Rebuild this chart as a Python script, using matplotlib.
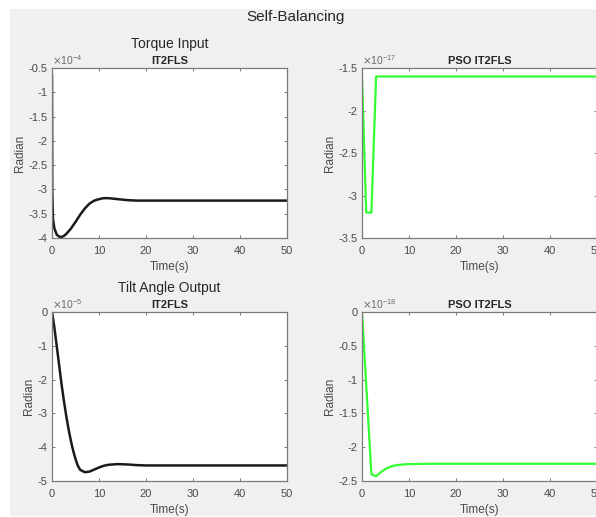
import matplotlib
matplotlib.use("Agg")
import matplotlib.pyplot as plt
from matplotlib.patches import Rectangle

plt.rcParams['font.family'] = ['Liberation Sans', 'DejaVu Sans']

# ---------------- data ----------------
# Torque Input, IT2FLS (values in units of 1e-4)
torque_t = [0, 0.05, 0.2, 0.5, 1, 1.5, 2, 2.5, 3, 4, 5, 6, 7, 8, 9, 10, 11, 12, 14, 16, 18, 20, 30, 40, 50]
torque_y = [-0.66, -3.0, -3.6, -3.8, -3.93, -3.97, -3.98, -3.96, -3.92, -3.81, -3.67, -3.52, -3.39, -3.29, -3.23, -3.2, -3.18, -3.18, -3.2, -3.22, -3.23, -3.23, -3.23, -3.23, -3.23]
torque_exp = -4

# Torque Input, PSO IT2FLS (units of 1e-17)
pso_torque_t = [0, 0.9, 2, 3, 50]
pso_torque_y = [-1.6, -3.2, -3.2, -1.6, -1.6]
pso_torque_exp = -17

# Tilt Angle Output, IT2FLS (units of 1e-5)
tilt_t = [0, 0.5, 1, 1.5, 2, 2.5, 3, 3.5, 4, 4.5, 5, 5.5, 6, 7, 8, 9, 10, 11, 12, 14, 16, 18, 20, 30, 50]
tilt_y = [0, -0.45, -1.0, -1.55, -2.1, -2.6, -3.05, -3.45, -3.8, -4.1, -4.35, -4.55, -4.67, -4.74, -4.72, -4.66, -4.6, -4.55, -4.52, -4.5, -4.51, -4.53, -4.54, -4.54, -4.54]
tilt_exp = -5

# Tilt Angle Output, PSO IT2FLS (units of 1e-18)
pso_tilt_t = [0, 2, 3, 4, 5, 6, 7, 8, 10, 15, 50]
pso_tilt_y = [0, -2.4, -2.43, -2.37, -2.32, -2.29, -2.27, -2.26, -2.25, -2.245, -2.245]
pso_tilt_exp = -18

x_ticks = [0, 10, 20, 30, 40, 50]
torque_yticks = [-4, -3.5, -3, -2.5, -2, -1.5, -1, -0.5]
pso_torque_yticks = [-3.5, -3, -2.5, -2, -1.5]
tilt_yticks = [-5, -4, -3, -2, -1, 0]
pso_tilt_yticks = [-2.5, -2, -1.5, -1, -0.5, 0]

# ---------------- figure ----------------
W, H = 596, 517
fig = plt.figure(figsize=(W / 100, H / 100), dpi=100)
fig.patch.set_facecolor('white')
fig.patches.append(Rectangle((10 / W, 1 / H), 1, 1 - 9 / H - 1 / H, transform=fig.transFigure,
                             facecolor='#f0f0f0', edgecolor='none', zorder=-10))

spine_c = '#7a7a7a'
text_c = '#4a4a4a'


def make_ax(left_px, top_px, w_px, h_px):
    ax = fig.add_axes([left_px / W, 1 - (top_px + h_px) / H, w_px / W, h_px / H])
    ax.set_facecolor('white')
    for s in ax.spines.values():
        s.set_color(spine_c)
        s.set_linewidth(0.9)
    ax.tick_params(direction='in', length=2.5, width=0.7, color=spine_c, labelcolor=text_c,
                   labelsize=8, top=True, right=True)
    ax.tick_params(axis='x', pad=6)
    ax.tick_params(axis='y', pad=3)
    return ax


def style(ax, t, y, color, lw, yticks, exp, title_top=None, title_bold=None):
    ax.plot(t, y, color=color, lw=lw, solid_joinstyle='round')
    ax.set_xlim(0, 50)
    ax.set_ylim(yticks[0], yticks[-1])
    ax.set_xticks(x_ticks)
    ax.set_xticklabels([str(v) for v in x_ticks])
    ax.set_yticks(yticks)
    ax.set_yticklabels([('%g' % v) for v in yticks])
    ax.set_xlabel('Time(s)', color=text_c, fontsize=8.5, labelpad=3)
    ax.set_ylabel('Radian', color=text_c, fontsize=8.5, labelpad=2)
    ax.text(0.0, 1.005, r'$\times\mathregular{10^{%d}}$' % exp, transform=ax.transAxes,
            ha='left', va='bottom', fontsize=7.5, color='#6a6a6a')
    if title_top:
        ax.text(0.5, 1.10, title_top, transform=ax.transAxes, ha='center', va='bottom',
                fontsize=10, color='#262626')
    ax.text(0.5, 1.01, title_bold, transform=ax.transAxes, ha='center', va='bottom',
            fontsize=8, fontweight='bold', color='#262626')


ax1 = make_ax(52, 68, 235, 170)
style(ax1, torque_t, torque_y, '#1a1a1a', 1.8, torque_yticks, torque_exp, 'Torque Input', 'IT2FLS')

ax2 = make_ax(362, 68, 235, 170)
style(ax2, pso_torque_t, pso_torque_y, '#33ff33', 1.6, pso_torque_yticks, pso_torque_exp, None, 'PSO IT2FLS')

ax3 = make_ax(52, 312, 235, 169)
style(ax3, tilt_t, tilt_y, '#1a1a1a', 1.8, tilt_yticks, tilt_exp, 'Tilt Angle Output', 'IT2FLS')

ax4 = make_ax(362, 312, 235, 169)
style(ax4, pso_tilt_t, pso_tilt_y, '#33ff33', 1.6, pso_tilt_yticks, pso_tilt_exp, None, 'PSO IT2FLS')

fig.text(296 / W, 1 - 17 / H, 'Self-Balancing', ha='center', va='center', fontsize=11, color='#262626')

fig.savefig('out.png', dpi=100, facecolor=fig.get_facecolor())
